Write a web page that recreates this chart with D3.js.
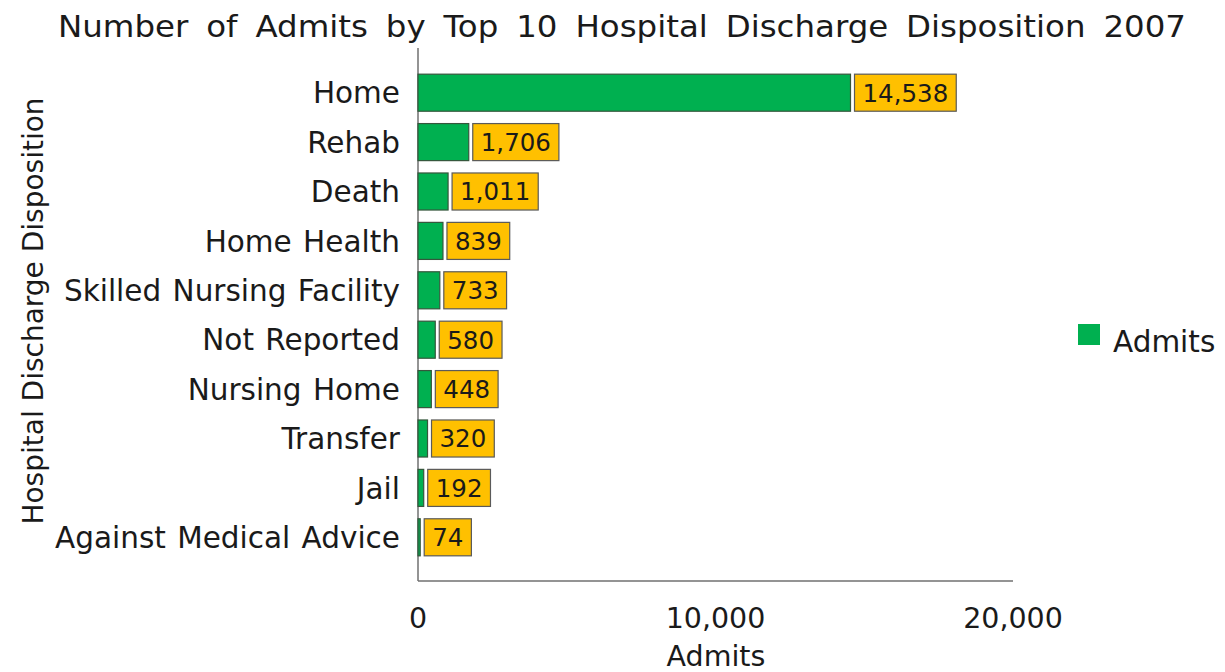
<!DOCTYPE html>
<html>
<head>
<meta charset="utf-8">
<script src="https://cdn.jsdelivr.net/npm/d3@7"></script>
<style>
  body { margin: 0; background: #fff; }
  text { font-family: "DejaVu Sans", Verdana, sans-serif; fill: #1a1a1a; }
</style>
</head>
<body>
<svg id="chart"></svg>
<script>
const categories = ["Home", "Rehab", "Death", "Home Health", "Skilled Nursing Facility",
  "Not Reported", "Nursing Home", "Transfer", "Jail", "Against Medical Advice"];
const admits = [14538, 1706, 1011, 839, 733, 580, 448, 320, 192, 74];
const xTicks = [0, 10000, 20000];

const data = categories.map((c, i) => ({ cat: c, value: admits[i] }));

const width = 1225;
const height = 672;
const svg = d3.select("#chart").attr("width", width).attr("height", height);

const xScale = d3.scaleLinear().domain([0, 20000]).range([418, 1013]);
const yScale = d3.scaleBand().domain(categories).range([68, 562])
  .paddingInner(0.25).paddingOuter(0.125);

// Title (font is a little wider in the original, so stretch it sideways)
const stretch = 1.1;
const title = svg.append("text")
  .attr("transform", `translate(58,37) scale(${stretch},1)`)
  .style("font-size", "29.5px")
  .text("Number of Admits by Top 10 Hospital Discharge Disposition 2007");
const tw = title.node().getComputedTextLength();
title.style("word-spacing", `${Math.max(0, (1128 / stretch - tw) / 9)}px`);

// Axis lines
svg.append("line").attr("x1", 418).attr("x2", 418).attr("y1", 48).attr("y2", 581)
  .attr("stroke", "#707070").attr("stroke-width", 1.5);
svg.append("line").attr("x1", 418).attr("x2", 1013).attr("y1", 581).attr("y2", 581)
  .attr("stroke", "#707070").attr("stroke-width", 1.5);

// Category labels
svg.selectAll(".cat")
  .data(data)
  .enter()
  .append("text")
  .attr("class", "cat")
  .attr("x", 400)
  .attr("y", (d) => yScale(d.cat) + yScale.bandwidth() / 2)
  .attr("dy", "0.36em")
  .attr("text-anchor", "end")
  .style("font-size", "29.5px")
  .style("word-spacing", "2px")
  .text((d) => d.cat);

// Bars
svg.selectAll(".bar")
  .data(data)
  .enter()
  .append("rect")
  .attr("class", "bar")
  .attr("x", xScale(0))
  .attr("y", (d) => yScale(d.cat))
  .attr("width", (d) => Math.max(1.5, xScale(d.value) - xScale(0)))
  .attr("height", yScale.bandwidth())
  .attr("fill", "#00B050")
  .attr("stroke", "#35563c")
  .attr("stroke-width", 1.2);

// Value label boxes
const fmt = d3.format(",");
const labels = svg.selectAll(".lbl")
  .data(data)
  .enter()
  .append("g")
  .attr("class", "lbl")
  .attr("transform", (d) => `translate(${Math.max(xScale(d.value), xScale(0) + 2) + 4},${yScale(d.cat)})`);

labels.append("rect")
  .attr("height", yScale.bandwidth())
  .attr("fill", "#FFC000")
  .attr("stroke", "#5a5a5a")
  .attr("stroke-width", 1.2);

labels.append("text")
  .attr("x", 8)
  .attr("y", yScale.bandwidth() / 2)
  .attr("dy", "0.36em")
  .style("font-size", "24.5px")
  .text((d) => fmt(d.value));

labels.each(function () {
  const g = d3.select(this);
  const w = g.select("text").node().getComputedTextLength();
  g.select("rect").attr("width", w + 16);
});

// X tick labels
svg.selectAll(".tick-lbl")
  .data(xTicks)
  .enter()
  .append("text")
  .attr("class", "tick-lbl")
  .attr("x", (d) => xScale(d))
  .attr("y", 628)
  .attr("text-anchor", "middle")
  .style("font-size", "28.5px")
  .text((d) => fmt(d));

// X axis title
svg.append("text")
  .attr("x", 716).attr("y", 666)
  .attr("text-anchor", "middle")
  .style("font-size", "28.5px")
  .text("Admits");

// Y axis title
svg.append("text")
  .attr("transform", "translate(43,311) rotate(-90)")
  .attr("text-anchor", "middle")
  .style("font-size", "28px")
  .text("Hospital Discharge Disposition");

// Legend
svg.append("rect")
  .attr("x", 1078).attr("y", 324).attr("width", 22).attr("height", 21)
  .attr("fill", "#00B050");
svg.append("text")
  .attr("x", 1113).attr("y", 352)
  .style("font-size", "29.5px")
  .text("Admits");
</script>
</body>
</html>
